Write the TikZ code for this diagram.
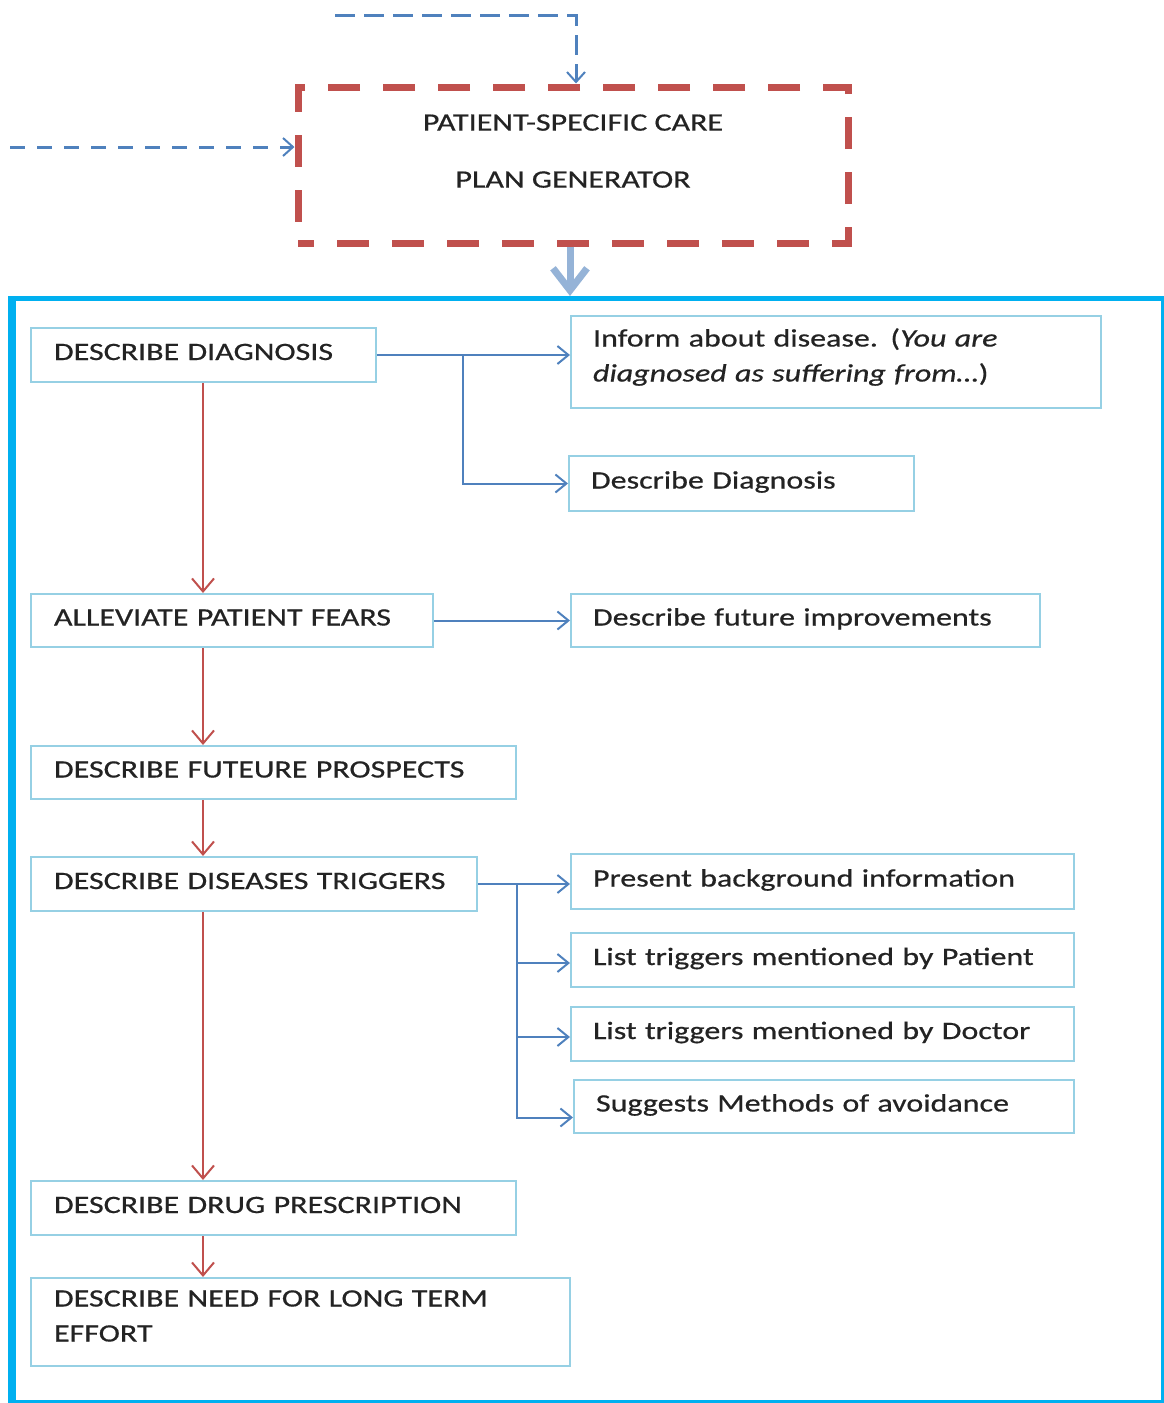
\documentclass[tikz,border=0pt]{standalone}
\usepackage{fontspec}
\setmainfont{Carlito}[FakeStretch=1.28, FakeBold=0.6]
\usetikzlibrary{arrows.meta, positioning}
\definecolor{frameblue}{RGB}{0,176,240}
\definecolor{boxblue}{RGB}{150,208,228}
\definecolor{linkblue}{RGB}{79,129,189}
\definecolor{flowred}{RGB}{192,80,77}
\definecolor{fatblue}{RGB}{149,179,215}
\definecolor{ink}{RGB}{35,35,35}

\tikzset{
  stepbox/.style={draw=boxblue, line width=2pt, anchor=north west, inner xsep=23pt, inner ysep=0pt,
    text height=18pt, text depth=8pt, align=left, text=ink, font=\fontsize{25}{35}\selectfont},
  twoline/.style={text depth=49pt},
  redarrow/.style={flowred, line width=2pt, -{Straight Barb[length=13pt,width=22pt,line width=2pt]}},
  bluearrow/.style={linkblue, line width=2pt, -{Straight Barb[length=11pt,width=18pt,line width=2pt]}},
  dasharrow/.style={linkblue, line width=3pt, -{Straight Barb[length=10pt,width=18pt,line width=2pt]}},
}

\begin{document}
\begin{tikzpicture}[x=1pt, y=-1pt]
  \useasboundingbox (0,0) rectangle (1164,1403);

  % generator
  \node[draw=flowred, line width=7pt, dash pattern=on 32pt off 23pt, dash phase=16pt, minimum width=550pt, minimum height=156pt,
    align=center, text=ink, text depth=28pt, font=\fontsize{25}{57}\selectfont] (plan) at (573,165)
    {PATIENT-SPECIFIC CARE\\PLAN GENERATOR};

  \coordinate (topin) at (335,15);
  \coordinate (leftin) at (10,147);
  \draw[dasharrow, dash pattern=on 20pt off 9pt] (topin) -| ([xshift=3pt]plan.north);
  \draw[dasharrow, dash pattern=on 15pt off 12pt] (leftin) -- (plan.west |- leftin);

  % frame
  \node[draw=frameblue, line width=5pt, minimum width=1150pt, minimum height=1104pt, anchor=north west] (frame) at (11,296) {};
  \draw[frameblue, line width=7pt] (frame.north west) -- (frame.south west);
  \draw[fatblue, line width=7pt, -{Straight Barb[length=22pt,width=34pt,line width=7pt]}]
    ([xshift=-3pt]plan.south) -- ([xshift=-3pt]plan.south |- frame.north);

  % left column
  \node[stepbox, text width=299pt, minimum height=54pt] (diag) at (30,327) {DESCRIBE DIAGNOSIS};
  \node[stepbox, text width=356pt, minimum height=53pt] (fears) at (30,593) {ALLEVIATE PATIENT FEARS};
  \node[stepbox, text width=439pt, minimum height=53pt] (prospects) at (30,745) {DESCRIBE FUTEURE PROSPECTS};
  \node[stepbox, text width=400pt, minimum height=54pt] (triggers) at (30,856) {DESCRIBE DISEASES TRIGGERS};
  \node[stepbox, text width=439pt, minimum height=54pt] (drug) at (30,1180) {DESCRIBE DRUG PRESCRIPTION};
  \node[stepbox, twoline, text width=493pt, minimum height=88pt] (effort) at (30,1277) {DESCRIBE NEED FOR LONG TERM\\EFFORT};

  % right column
  \node[stepbox, twoline, text width=486pt, inner xsep=22pt, minimum height=92pt] (inform) at (570,315)
    {Inform about disease. (\textit{You are}\\\textit{diagnosed as suffering from\ldots})};
  \node[stepbox, text width=301pt, inner xsep=22pt, minimum height=55pt] (descdiag) at (568,455) {Describe Diagnosis};
  \node[stepbox, text width=425pt, inner xsep=22pt, minimum height=53pt] (improve) at (570,593) {Describe future improvements};
  \node[stepbox, text width=459pt, inner xsep=22pt, minimum height=55pt] (backgr) at (570,853) {Present background information};
  \node[stepbox, text width=459pt, inner xsep=22pt, minimum height=54pt] (patient) at (570,932) {List triggers mentioned by Patient};
  \node[stepbox, text width=459pt, inner xsep=22pt, minimum height=54pt] (doctor) at (570,1006) {List triggers mentioned by Doctor};
  \node[stepbox, text width=456pt, inner xsep=22pt, minimum height=53pt] (avoid) at (573,1079) {Suggests Methods of avoidance};

  % red flow
  \draw[redarrow] ([xshift=173pt]diag.south west) -- ([xshift=173pt]fears.north west);
  \draw[redarrow] ([xshift=173pt]fears.south west) -- ([xshift=173pt]prospects.north west);
  \draw[redarrow] ([xshift=173pt]prospects.south west) -- ([xshift=173pt]triggers.north west);
  \draw[redarrow] ([xshift=173pt]triggers.south west) -- ([xshift=173pt]drug.north west);
  \draw[redarrow] ([xshift=173pt]drug.south west) -- ([xshift=173pt]effort.north west);

  % blue links
  \draw[bluearrow] (diag.east) -- (inform.west |- diag.east);
  \draw[bluearrow] ([xshift=86pt]diag.east) |- (descdiag.west);
  \draw[bluearrow] (fears.east) -- (improve.west);
  \draw[bluearrow] (triggers.east) -- (backgr.west |- triggers.east);
  \draw[bluearrow] ([xshift=39pt]triggers.east) |- ([yshift=-3pt]patient.west);
  \draw[bluearrow] ([xshift=39pt]triggers.east) |- ([yshift=-3pt]doctor.west);
  \draw[bluearrow] ([xshift=39pt]triggers.east) |- ([yshift=-11pt]avoid.west);
\end{tikzpicture}
\end{document}
